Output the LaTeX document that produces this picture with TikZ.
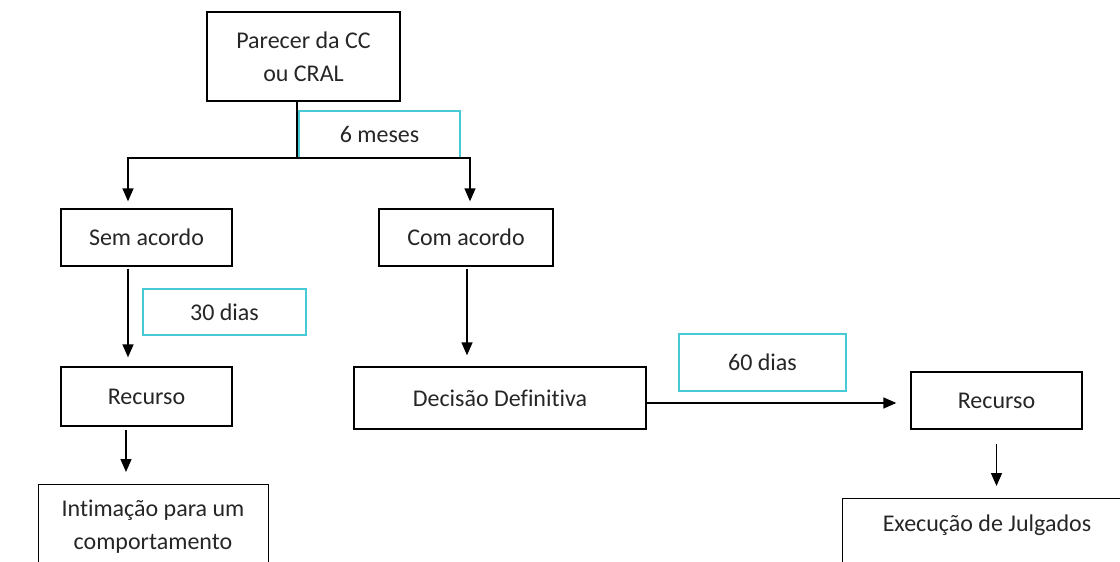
\documentclass[tikz,border=0pt]{standalone}
\usepackage{fontspec}
\setmainfont{Carlito}[Ligatures=NoCommon]
\usetikzlibrary{arrows.meta}
\definecolor{tealline}{RGB}{72,202,214}
\definecolor{ink}{RGB}{38,38,38}
\begin{document}
\begin{tikzpicture}[x=1pt,y=-1pt,
  label font/.style={font=\fontsize{24}{33}\selectfont, text=ink},
  box/.style={draw=black, line width=1.3pt, rectangle, inner sep=0pt, align=center, label font},
  txt/.style={inner sep=0pt, align=center, label font},
  tag/.style={draw=tealline, line width=1.3pt, rectangle, inner sep=0pt, align=center, label font},
  wire/.style={line width=1.3pt, draw=black},
  flow/.style={wire, -{Triangle[width=11pt,length=13pt]}},
]
\useasboundingbox (0,0) rectangle (1120,562);

% process boxes
\node[box, minimum width=193pt, minimum height=89pt] (par) at (303.5,56.5) {Parecer da CC\\ou CRAL};
\node[box, minimum width=171pt, minimum height=57pt] (sem) at (146.5,237.5) {Sem acordo};
\node[box, minimum width=174pt, minimum height=57pt] (com) at (466,237.5) {Com acordo};
\node[box, minimum width=171pt, minimum height=59pt] (rec1) at (146.5,396.5) {Recurso};
\node[box, minimum width=292pt, minimum height=62pt] (dec) at (500,398) {Decisão Definitiva};
\node[box, minimum width=171pt, minimum height=57pt] (rec2) at (996.5,400.5) {Recurso};

% bottom boxes run past the lower edge
\node[box, anchor=north west, minimum width=230pt, minimum height=120pt] (int) at (38,484) {};
\node[txt] (intt) at (153,527) {Intimação para um\\comportamento};
\node[box, anchor=north west, minimum width=290pt, minimum height=110pt] (exe) at (842,498) {};
\node[txt] (exet) at (987,525) {Execução de Julgados};

% time limits
\node[tag, minimum width=161pt, minimum height=47pt] (t6) at (379.5,134.5) {6 meses};
\node[tag, minimum width=163pt, minimum height=46pt] (t30) at (224.5,312) {30 dias};
\node[tag, minimum width=167pt, minimum height=57pt] (t60) at (762.5,362.5) {60 dias};

% split after the opinion
\coordinate (split) at (297,158);
\coordinate (splitL) at (128,158);
\coordinate (splitR) at (470,158);
\draw[wire] (par.south -| split) -- (split);
\draw[wire, {Triangle[width=11pt,length=13pt]}-{Triangle[width=11pt,length=13pt]}, shorten <=7pt, shorten >=7pt]
  (splitL |- sem.north) -- (splitL) -- (splitR) -- (splitR |- com.north);

% left branch
\draw[flow, shorten <=2pt, shorten >=9pt] (sem.south -| splitL) -- (rec1.north -| splitL);
\draw[flow, shorten <=3pt, shorten >=12pt] ([xshift=-20.5pt]rec1.south) -- ([xshift=-20.5pt]rec1.south |- int.north);

% right branch
\draw[flow, shorten <=2pt, shorten >=11pt] ([xshift=1pt]com.south) -- ([xshift=1pt]com.south |- dec.north);
\draw[flow, shorten >=14pt] ([yshift=-5pt]dec.east) -- ([yshift=-5pt]dec.east -| rec2.west);
\draw[flow, shorten <=14pt, shorten >=12pt] (rec2.south) -- (rec2.south |- exe.north);
\end{tikzpicture}
\end{document}
